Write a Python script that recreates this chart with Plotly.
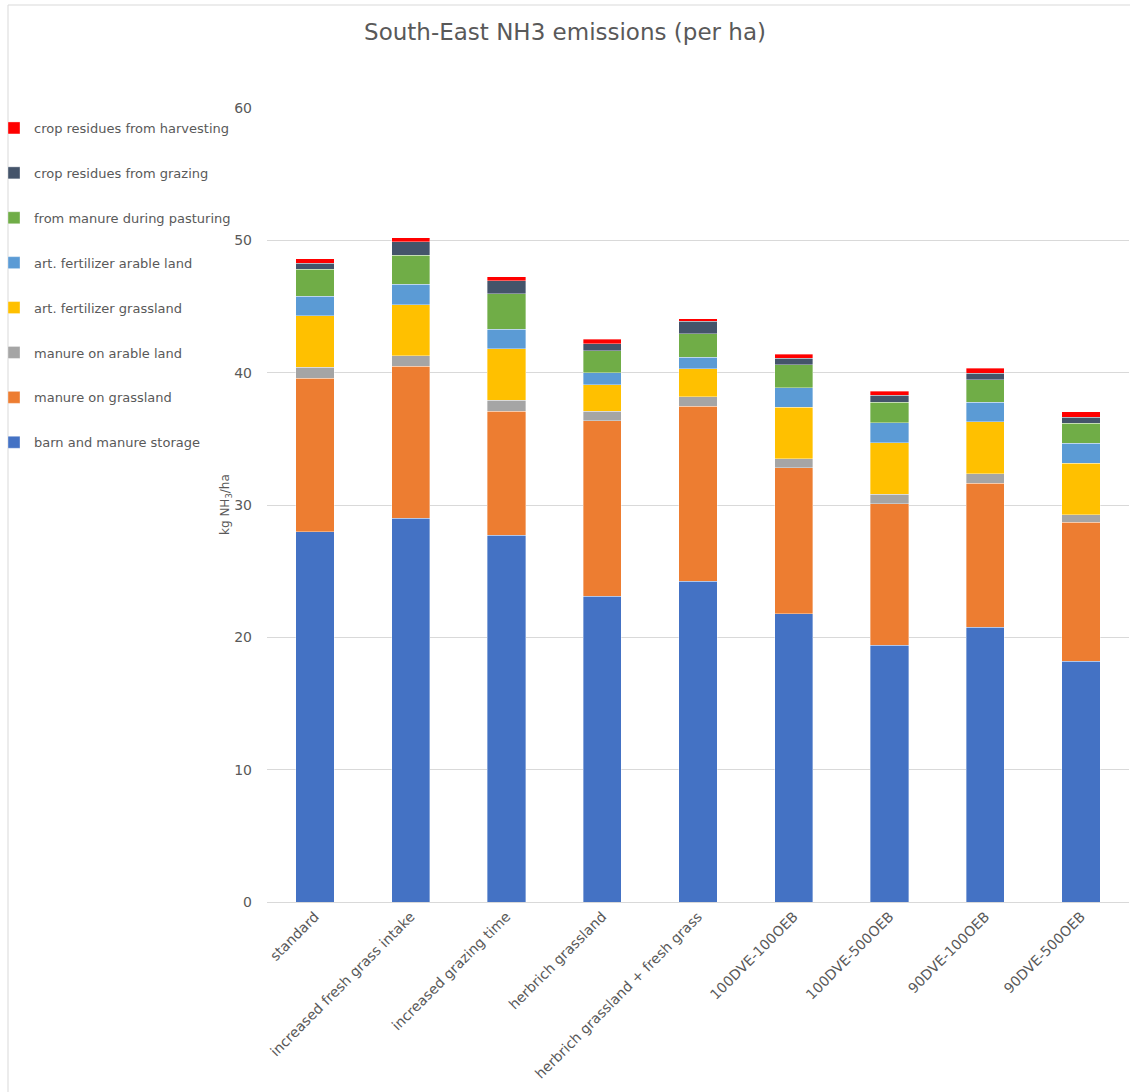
import plotly.graph_objects as go

# Scenario names along the x axis
scenarios = [
    "standard",
    "increased fresh grass intake",
    "increased grazing time",
    "herbrich grassland",
    "herbrich grassland + fresh grass",
    "100DVE-100OEB",
    "100DVE-500OEB",
    "90DVE-100OEB",
    "90DVE-500OEB",
]

# NH3 emission sources, kg NH3/ha (stacked bottom to top)
barn_and_manure_storage = [27.98, 29.00, 27.71, 23.12, 24.23, 21.79, 19.40, 20.78, 18.21]
manure_on_grassland = [11.60, 11.50, 9.39, 13.25, 13.25, 11.03, 10.68, 10.88, 10.48]
manure_on_arable_land = [0.83, 0.78, 0.81, 0.71, 0.70, 0.66, 0.73, 0.71, 0.58]
art_fertilizer_grassland = [3.89, 3.86, 3.88, 2.01, 2.12, 3.90, 3.90, 3.93, 3.90]
art_fertilizer_arable_land = [1.49, 1.54, 1.48, 0.89, 0.88, 1.49, 1.49, 1.46, 1.51]
from_manure_during_pasturing = [2.02, 2.21, 2.70, 1.68, 1.77, 1.71, 1.56, 1.71, 1.49]
crop_residues_from_grazing = [0.45, 1.01, 0.98, 0.53, 0.93, 0.50, 0.53, 0.50, 0.48]
crop_residues_from_harvesting = [0.33, 0.30, 0.30, 0.33, 0.20, 0.33, 0.30, 0.35, 0.38]

series = [
    ("barn and manure storage", barn_and_manure_storage, "#4472C4"),
    ("manure on grassland", manure_on_grassland, "#ED7D31"),
    ("manure on arable land", manure_on_arable_land, "#A5A5A5"),
    ("art. fertilizer grassland", art_fertilizer_grassland, "#FFC000"),
    ("art. fertilizer arable land", art_fertilizer_arable_land, "#5B9BD5"),
    ("from manure during pasturing", from_manure_during_pasturing, "#70AD47"),
    ("crop residues from grazing", crop_residues_from_grazing, "#44546A"),
    ("crop residues from harvesting", crop_residues_from_harvesting, "#FF0000"),
]

TEXT = "#595959"
GRID = "#D9D9D9"
FONT = "DejaVu Sans"

fig = go.Figure()
n = len(series)
for i, (name, values, color) in enumerate(series):
    fig.add_trace(go.Bar(
        x=scenarios,
        y=values,
        name=name,
        legendgroup=name,
        legendrank=n - i,  # top of the stack listed first
        marker=dict(color=color, line=dict(color="rgba(255,255,255,0.6)", width=0.6)),
    ))

W, H = 1130, 1092
ML, MR, MT, MB = 267, 1, 108, 190
pw = W - ML - MR
ph = H - MT - MB

fig.update_layout(
    width=W,
    height=H,
    margin=dict(l=ML, r=MR, t=MT, b=MB, pad=0, autoexpand=False),
    barmode="stack",
    bargap=0.6,
    plot_bgcolor="white",
    paper_bgcolor="white",
    font=dict(family=FONT, color=TEXT, size=12),
    title=dict(
        text="South-East NH3 emissions (per ha)",
        x=0.5, xref="container", xanchor="center",
        y=1 - 32 / H, yanchor="middle", yref="container",
        font=dict(family=FONT, size=23, color=TEXT),
    ),
    legend=dict(
        traceorder="grouped",
        tracegroupgap=25,
        x=-(ML + 6) / pw, xanchor="left",
        y=(H - MB - 113) / ph, yanchor="top",
        font=dict(family=FONT, size=13, color=TEXT),
        bgcolor="rgba(0,0,0,0)",
    ),
    xaxis=dict(
        automargin=False,
        tickangle=-45,
        tickfont=dict(family=FONT, size=14, color=TEXT),
        showgrid=False,
        showline=True,
        linecolor=GRID,
        linewidth=1,
        ticks="",
    ),
    yaxis=dict(
        automargin=False,
        range=[0, 60],
        dtick=10,
        showgrid=True,
        gridcolor=GRID,
        gridwidth=1,
        zeroline=False,
        showline=False,
        tickfont=dict(family=FONT, size=14, color=TEXT),
        ticklabelstandoff=14,
    ),
    annotations=[
        dict(
            text="kg NH<sub>3</sub>/ha",
            textangle=-90,
            xref="paper", yref="paper",
            x=(226 - ML) / pw, y=0.5,
            xanchor="center", yanchor="middle",
            showarrow=False,
            font=dict(family=FONT, size=12, color=TEXT),
        )
    ],
    shapes=[
        dict(
            type="rect", xref="paper", yref="paper",
            x0=(8 - ML) / pw, x1=1.2,
            y0=-0.5, y1=1 + (MT - 5) / ph,
            line=dict(color=GRID, width=1),
            fillcolor="rgba(0,0,0,0)",
            layer="below",
        )
    ],
)

fig.write_html("out.html")
